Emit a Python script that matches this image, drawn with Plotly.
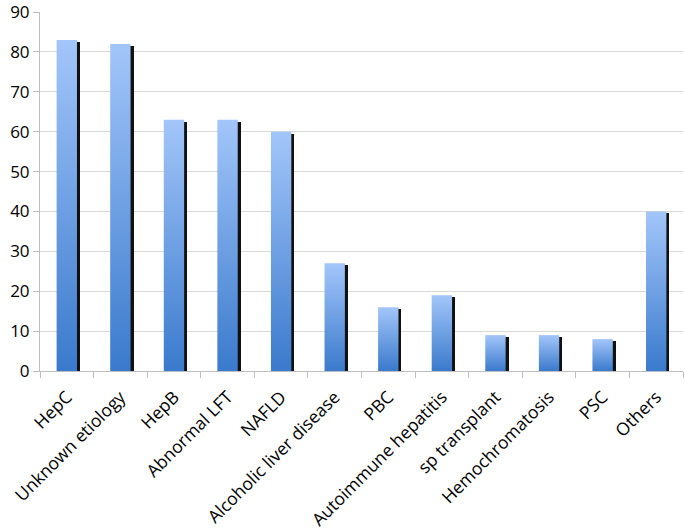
import plotly.graph_objects as go

categories = ["HepC", "Unknown etiology", "HepB", "Abnormal LFT", "NAFLD",
              "Alcoholic liver disease", "PBC", "Autoimmune hepatitis",
              "sp transplant", "Hemochromatosis", "PSC", "Others"]
values = [83, 82, 63, 63, 60, 27, 16, 19, 9, 9, 8, 40]
y_ticks = [0, 10, 20, 30, 40, 50, 60, 70, 80, 90]

BAR_W = 0.38
TOP_COLOR = "#A3C6FA"
BOTTOM_COLOR = "#3A7ACC"
FONT_FAMILY = "Open Sans, Noto Sans, sans-serif"
YFONT = dict(family=FONT_FAMILY, size=17, color="#000000")
XFONT = dict(family=FONT_FAMILY, size=17.5, color="#000000")

fig = go.Figure()

# shadow bars (drawn behind, shifted right and slightly down)
fig.add_trace(go.Bar(
    x=categories, y=[v - 0.5 for v in values],
    width=BAR_W, offset=-BAR_W / 2 + 0.055,
    marker=dict(color="#111111", line=dict(width=0)),
    hoverinfo="skip", showlegend=False,
))

# gradient-filled bars drawn as filled rectangles on an overlaying numeric axis
for i, (cat, v) in enumerate(zip(categories, values)):
    x0, x1 = i - BAR_W / 2, i + BAR_W / 2
    fig.add_trace(go.Scatter(
        x=[x0, x1, x1, x0, x0], y=[0, 0, v, v, 0],
        xaxis="x2", yaxis="y",
        mode="lines", line=dict(width=0, color=BOTTOM_COLOR),
        fill="toself",
        fillgradient=dict(type="vertical",
                          colorscale=[[0, BOTTOM_COLOR], [1, TOP_COLOR]]),
        name=cat, hovertemplate=f"{cat}: {v}<extra></extra>",
        showlegend=False,
    ))

fig.update_layout(
    width=685, height=531,
    margin=dict(l=40, r=2, t=12, b=160),
    paper_bgcolor="white", plot_bgcolor="white",
    font=YFONT,
    bargap=0,
    xaxis=dict(
        type="category", categoryorder="array", categoryarray=categories,
        range=[-0.5, len(categories) - 0.5],
        tickson="boundaries", ticks="outside", ticklen=6, tickcolor="#BFBFBF",
        showline=True, linecolor="#BFBFBF", linewidth=1,
        showgrid=False, tickangle=-45, tickfont=XFONT, fixedrange=True,
        automargin=False, ticklabeloverflow="allow", ticklabelstandoff=8,
    ),
    xaxis2=dict(
        overlaying="x", range=[-0.5, len(categories) - 0.5],
        visible=False, fixedrange=True, automargin=False,
    ),
    yaxis=dict(
        range=[0, 90], tickvals=y_ticks,
        ticks="outside", ticklen=6, tickcolor="#BFBFBF",
        showline=True, linecolor="#BFBFBF", linewidth=1,
        showgrid=True, gridcolor="#D9D9D9", gridwidth=1,
        zeroline=False, tickfont=YFONT, fixedrange=True,
        automargin=False, ticklabeloverflow="allow",
    ),
)

fig.write_html("out.html", config={"displayModeBar": False},
               post_script="document.body.style.margin='0';")
